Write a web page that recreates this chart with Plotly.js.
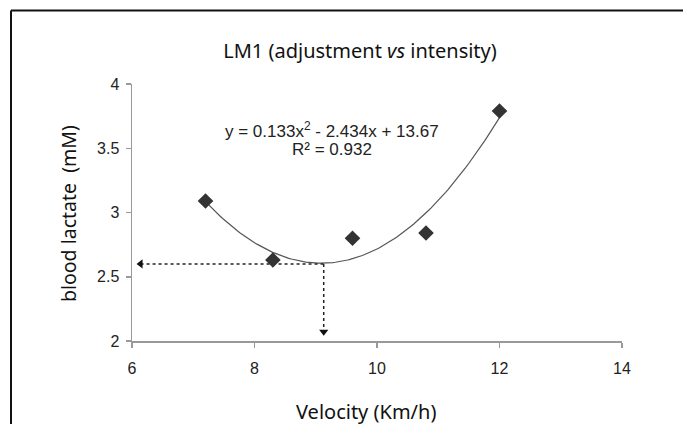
<!DOCTYPE html>
<html>
<head>
<meta charset="utf-8">
<script src="https://cdn.plot.ly/plotly-3.0.1.min.js"></script>
<style>
html,body{margin:0;padding:0;background:#fff;}
#chart{width:683px;height:424px;}
</style>
</head>
<body>
<div id="chart"></div>
<script>
// Data
const velocity = [7.2, 8.3, 9.6, 10.8, 12.0];
const lactate = [3.09, 2.63, 2.80, 2.84, 3.79];
const thresholdX = [9.13];
const thresholdY = [2.6];
const xTicks = [6, 8, 10, 12, 14];
const yTicks = [2, 2.5, 3, 3.5, 4];
const eqText = 'y = 0.133x<sup>2</sup> - 2.434x + 13.67';
const r2Text = 'R² = 0.932';

// Quadratic least-squares trendline computed from the data
function quadFit(xs, ys) {
  const n = xs.length;
  let S = [0,0,0,0,0], T = [0,0,0];
  for (let i = 0; i < n; i++) {
    let p = 1;
    for (let k = 0; k < 5; k++) { S[k] += p; if (k < 3) T[k] += p * ys[i]; p *= xs[i]; }
  }
  const A = [[S[0],S[1],S[2],T[0]],[S[1],S[2],S[3],T[1]],[S[2],S[3],S[4],T[2]]];
  for (let c = 0; c < 3; c++) {
    for (let r = c + 1; r < 3; r++) {
      const f = A[r][c] / A[c][c];
      for (let k = c; k < 4; k++) A[r][k] -= f * A[c][k];
    }
  }
  const sol = [0,0,0];
  for (let r = 2; r >= 0; r--) {
    let s = A[r][3];
    for (let k = r + 1; k < 3; k++) s -= A[r][k] * sol[k];
    sol[r] = s / A[r][r];
  }
  return sol;
}
const coef = quadFit(velocity, lactate);
const fitX = [], fitY = [];
const x0 = Math.min(...velocity), x1 = Math.max(...velocity);
for (let i = 0; i <= 120; i++) {
  const x = x0 + (x1 - x0) * i / 120;
  fitX.push(x);
  fitY.push(coef[0] + coef[1] * x + coef[2] * x * x);
}

const axisFont = {family: 'Liberation Sans, Arial, sans-serif', size: 16, color: '#222'};
const labelFont = {family: 'Noto Sans, Open Sans, sans-serif', size: 20, color: '#111'};

const traces = [
  {x: fitX, y: fitY, mode: 'lines', line: {color: '#555', width: 1.2}, hoverinfo: 'skip'},
  {x: [xTicks[0] + 0.14, thresholdX[0]], y: [thresholdY[0], thresholdY[0]], mode: 'lines',
   line: {color: '#222', width: 1.5, dash: 'dot'}},
  {x: [thresholdX[0], thresholdX[0]], y: [thresholdY[0], yTicks[0] + 0.08], mode: 'lines',
   line: {color: '#222', width: 1.5, dash: 'dot'}},
  {x: [xTicks[0] + 0.14], y: [thresholdY[0]], mode: 'markers',
   marker: {symbol: 'triangle-left', size: 8, color: '#111'}},
  {x: [thresholdX[0]], y: [yTicks[0] + 0.072], mode: 'markers',
   marker: {symbol: 'triangle-down', size: 8, color: '#111'}},
  {x: velocity, y: lactate, mode: 'markers',
   marker: {symbol: 'diamond', size: 12, color: '#333'}}
];

const layout = {
  width: 683, height: 424,
  margin: {l: 132, r: 61, t: 84, b: 83},
  paper_bgcolor: '#fff', plot_bgcolor: '#fff',
  showlegend: false,
  title: {text: 'LM1 (adjustment <i>vs</i> intensity)', font: labelFont,
          x: 360 / 683, xanchor: 'center', y: 1 - 51/424, yanchor: 'middle'},
  xaxis: {range: [6, 14], tickvals: xTicks, ticktext: xTicks.map(String), showgrid: false, zeroline: false,
          showline: true, linecolor: '#999', linewidth: 1.5, ticks: 'outside', ticklen: 5, tickcolor: '#999', tickwidth: 1.5,
          tickfont: axisFont, fixedrange: true, ticklabelstandoff: 7},
  yaxis: {range: [2, 4], tickvals: yTicks, ticktext: yTicks.map(String), showgrid: false, zeroline: false,
          showline: true, linecolor: '#999', linewidth: 1.5, ticks: 'outside', ticklen: 5, tickcolor: '#999', tickwidth: 1.5,
          tickfont: axisFont, fixedrange: true, ticklabelstandoff: 3},
  annotations: [
    {text: eqText, xref: 'paper', yref: 'paper', x: (332 - 132) / 490, y: (341 - 130) / 257, showarrow: false,
     font: {family: 'Liberation Sans, Arial, sans-serif', size: 17, color: '#222'}, xanchor: 'center', yanchor: 'middle'},
    {text: r2Text, xref: 'paper', yref: 'paper', x: (332 - 132) / 490, y: (341 - 149) / 257, showarrow: false,
     font: {family: 'Liberation Sans, Arial, sans-serif', size: 17, color: '#222'}, xanchor: 'center', yanchor: 'middle'},
    {text: 'Velocity (Km/h)', xref: 'paper', yref: 'paper', x: (366 - 132) / 490, y: (341 - 411) / 257, showarrow: false,
     font: labelFont, xanchor: 'center', yanchor: 'middle'},
    {text: 'blood lactate  (mM)', xref: 'paper', yref: 'paper', x: (68 - 132) / 490, y: (341 - 214) / 257, showarrow: false,
     textangle: -90, font: {family: 'Noto Sans, Open Sans, sans-serif', size: 19.5, color: '#111'}, xanchor: 'center', yanchor: 'middle'}
  ],
  shapes: [
    {type: 'line', xref: 'paper', yref: 'paper', x0: (11 - 132) / 490, x1: (690 - 132) / 490, y0: (341 - 10.5) / 257, y1: (341 - 10.5) / 257,
     line: {color: '#111', width: 2}},
    {type: 'line', xref: 'paper', yref: 'paper', x0: (11 - 132) / 490, x1: (11 - 132) / 490, y0: (341 - 10.5) / 257, y1: (341 - 440) / 257,
     line: {color: '#111', width: 2}}
  ]
};

Plotly.newPlot('chart', traces, layout, {staticPlot: true, displayModeBar: false});
</script>
</body>
</html>
